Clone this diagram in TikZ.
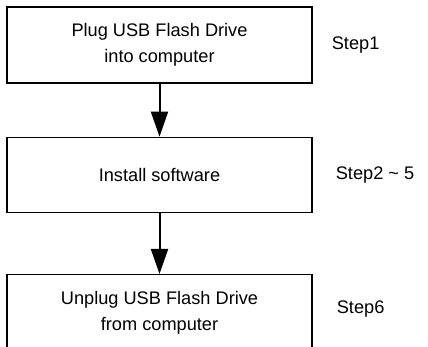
\documentclass[tikz,border=0pt]{standalone}
\usepackage{fontspec}
\setmainfont{Liberation Sans}
\usetikzlibrary{arrows.meta, positioning}

\begin{document}
\begin{tikzpicture}[
    x=1pt, y=-1pt,
    font=\fontsize{18.2}{26}\selectfont,
    % styles for the step boxes
    box/.style={rectangle, draw=black, line width=1.3pt, minimum width=305pt, minimum height=76pt, align=center},
    steplabel/.style={inner sep=0pt, anchor=west},
    % style for the arrows
    arrow/.style={-{Triangle[length=25pt, width=17pt]}, line width=2pt}
]
\clip (0,0) rectangle (428,346);

% Boxes
\node (plug) [box] at (159.5,45) {Plug USB Flash Drive\\into computer};
\node (install) [box, minimum height=75pt, below=53pt of plug] {Install software};
\node (unplug) [box, below=61pt of install] {Unplug USB Flash Drive\\from computer};

% Step labels
\node (step1) [steplabel, right=19pt of plug] {Step1};
\node (step25) [steplabel, right=23pt of install] {Step2 \textasciitilde{} 5};
\node (step6) [steplabel, right=24pt of unplug, yshift=4pt] {Step6};

% Arrows
\draw [arrow] (plug) -- (install);
\draw [arrow] (install) -- (unplug);

\end{tikzpicture}
\end{document}
